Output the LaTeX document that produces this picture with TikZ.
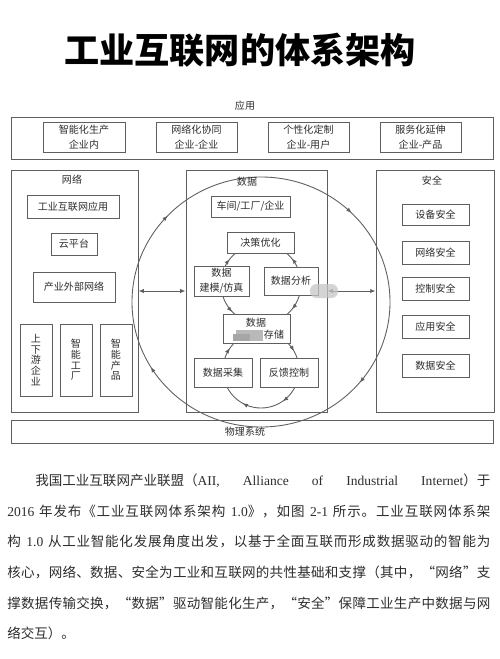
\documentclass[tikz,border=0pt]{standalone}
\usepackage{fontspec}
\setmainfont{Noto Sans CJK SC}
\newfontfamily\latfont{Liberation Serif}
\usetikzlibrary{arrows.meta,decorations.markings}
\newlength\upx \setlength\upx{0.02cm}
\definecolor{ln}{RGB}{95,95,95}
\definecolor{tx}{RGB}{45,45,45}
\newcommand\dfont{\fontsize{5.7pt}{8.6pt}\selectfont}
\newcommand\pfont{\fontsize{7.7pt}{9pt}\selectfont}
\newcommand\lat[1]{{\latfont #1}}
\newcommand\gap{\hspace{0.35em}}
\makeatletter
\newcommand\J[1]{\@tfor\jchar:=#1\do{\jchar\hskip 0pt plus 1fil\relax}}
\makeatother
\newcommand\boxat[6]{\node[bx, minimum width={(#4-#2)*0.02cm}, minimum height={(#5-#3)*0.02cm}] (#1) at ({(#2+#4)/2},{(#3+#5)/2}) {#6};}
\newcommand\frameat[5]{\node[fr, minimum width={(#4-#2)*0.02cm}, minimum height={(#5-#3)*0.02cm}] (#1) at ({(#2+#4)/2},{(#3+#5)/2}) {};}
\tikzset{mytip/.tip={Latex[length=3pt,width=2.4pt]}}
\begin{document}
\begin{tikzpicture}[x=0.02cm,y=-0.02cm,
  bx/.style={draw=ln, line width=0.55pt, fill=white, inner sep=0pt, align=center, font=\dfont, text=tx},
  fr/.style={draw=ln, line width=0.55pt, inner sep=0pt},
  lbl/.style={inner sep=0pt, font=\dfont, text=tx},
  para/.style={inner sep=0pt, font=\pfont, text=tx, anchor=west},
  arr/.style={draw=ln, line width=0.5pt, {mytip}-{mytip}},
  cyc/.style={draw=ln, line width=0.5pt}]
\fill[white] (0,0) rectangle (500,659);
\useasboundingbox (0,0) rectangle (500,659);

% title
\node[inner sep=0pt, font=\fontsize{20pt}{24pt}\selectfont\bfseries] (title) at (240,50) {工业互联网的体系架构};

% application layer
\node[lbl] (applbl) at (245,106) {应用};
\frameat{app}{11}{117}{493}{159}
\boxat{a1}{43}{122}{125}{152}{智能化生产\\企业内}
\boxat{a2}{156}{122}{237}{152}{网络化协同\\企业-企业}
\boxat{a3}{268}{122}{349}{152}{个性化定制\\企业-用户}
\boxat{a4}{380}{122}{461}{152}{服务化延伸\\企业-产品}

% outer columns
\frameat{net}{11}{170}{138}{412}
\frameat{data}{186}{170}{327}{412}
\frameat{sec}{376}{170}{494}{412}
\frameat{phys}{11}{420}{493}{443}
\node[lbl] (physlbl) at (245,432) {物理系统};

% big cycle
\draw[cyc, postaction={decorate}, decoration={markings,
  mark=at position 0.11 with {\arrow{mytip}},
  mark=at position 0.414 with {\arrow{mytip}},
  mark=at position 0.62 with {\arrow{mytip}},
  mark=at position 0.875 with {\arrow{mytip}}}]
  (261,302) ellipse [x radius=129, y radius=125];

% network column
\node[lbl] (netlbl) at (72,180) {网络};
\boxat{n1}{27}{195}{119}{218}{工业互联网应用}
\boxat{n2}{51}{233}{97}{255}{云平台}
\boxat{n3}{33}{272}{115}{302}{产业外部网络}
\node[bx, minimum width={32*0.02cm}, minimum height={72*0.02cm}, font=\fontsize{5.7pt}{6.1pt}\selectfont] (n4) at (36,360) {上\\下\\游\\企\\业};
\node[bx, minimum width={32*0.02cm}, minimum height={72*0.02cm}, font=\fontsize{5.7pt}{6.1pt}\selectfont] (n5) at (76,360) {智\\能\\工\\厂};
\node[bx, minimum width={32*0.02cm}, minimum height={72*0.02cm}, font=\fontsize{5.7pt}{6.1pt}\selectfont] (n6) at (116,360) {智\\能\\产\\品};

% data column
\node[lbl] (datalbl) at (247,182) {数据};
\draw[cyc, postaction={decorate}, decoration={markings,
  mark=at position 0.108 with {\arrow{mytip}},
  mark=at position 0.378 with {\arrowreversed{mytip}},
  mark=at position 0.606 with {\arrow{mytip}},
  mark=at position 0.89 with {\arrowreversed{mytip}}}]
  (261,284) circle [radius=40];
\draw[cyc, postaction={decorate}, decoration={markings,
  mark=at position 0.153 with {\arrow{mytip}},
  mark=at position 0.33 with {\arrow{mytip}},
  mark=at position 0.597 with {\arrow{mytip}},
  mark=at position 0.917 with {\arrow{mytip}}}]
  (261,370) circle [radius=38];
\boxat{d1}{211}{196}{290}{217}{车间/工厂/企业}
\boxat{d2}{227}{232}{294}{253}{决策优化}
\boxat{d3}{194}{266}{249}{296}{数据\\建模/仿真}
\boxat{d4}{264}{267}{318}{295}{数据分析}
\boxat{d5}{223}{314}{290}{343}{}
\fill[gray!55] (236,330) rectangle (263,341);
\fill[gray!70] (233,334) rectangle (250,341);
\node[lbl] (d5a) at (256,323) {数据};
\node[lbl] (d5b) at (274,335) {存储};
\boxat{d6}{194}{358}{252}{387}{数据采集}
\boxat{d7}{260}{358}{318}{387}{反馈控制}

% security column
\node[lbl] (seclbl) at (432,181) {安全};
\boxat{s1}{402}{204}{469}{225}{设备安全}
\boxat{s2}{402}{241}{469}{264}{网络安全}
\boxat{s3}{402}{277}{469}{300}{控制安全}
\boxat{s4}{402}{315}{469}{338}{应用安全}
\boxat{s5}{402}{354}{469}{377}{数据安全}

% horizontal links
\draw[arr] (net.east) -- (data.west);
\draw[arr] (data.east) -- (sec.west);
\fill[gray!45, opacity=0.75, rounded corners=0.13cm] (310,284) rectangle (338,298);

% paragraph
\node[para] (p1) at (35,481) {\makebox[455\upx][s]{我国工业互联网产业联盟（\lat{AII,\hfill Alliance\hfill of\hfill Industrial\hfill Internet}）于}};
\node[para] (p2) at (7,511) {\makebox[483\upx][s]{\lat{2016}\gap\J{年发布《工业互联网体系架构}\gap\lat{1.0}\J{》，如图}\gap\lat{2-1}\gap\J{所示。工业互联网体系架}\unskip}};
\node[para] (p3) at (7,541) {\makebox[483\upx][s]{\J{构}\gap\lat{1.0}\gap\J{从工业智能化发展角度出发，以基于全面互联而形成数据驱动的智能为}\unskip}};
\node[para] (p4) at (7,572) {\makebox[483\upx][s]{\J{核心，网络、数据、安全为工业和互联网的共性基础和支撑（其中，“网络”支}\unskip}};
\node[para] (p5) at (7,603) {\makebox[483\upx][s]{\J{撑数据传输交换，“数据”驱动智能化生产，“安全”保障工业生产中数据与网}\unskip}};
\node[para] (p6) at (7,633) {络交互）。};
\end{tikzpicture}
\end{document}
